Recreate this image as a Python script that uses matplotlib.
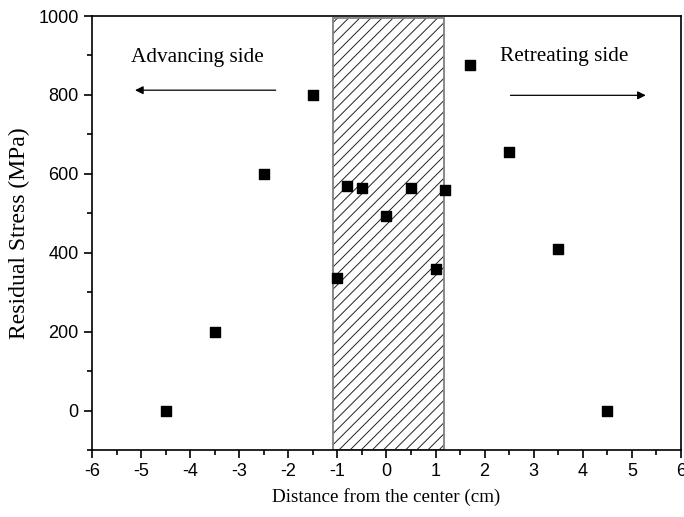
import matplotlib.pyplot as plt
from matplotlib.patches import Rectangle
from matplotlib.ticker import MultipleLocator

plt.rcParams['axes.unicode_minus'] = False
plt.rcParams['hatch.linewidth'] = 0.7

# Measured points
distance = [-4.5, -3.5, -2.5, -1.5, -1.0, -0.8, -0.5, 0.0, 0.5, 1.0, 1.2, 1.7, 2.5, 3.5, 4.5]
stress = [0, 200, 600, 800, 335, 570, 565, 492, 565, 360, 560, 875, 655, 410, 0]

# Stir zone extent (cm)
zone_left = -1.08
zone_right = 1.18

fig = plt.figure(figsize=(6.84, 5.17), dpi=100)
ax = fig.add_axes([0.1345, 0.1296, 0.861, 0.8394])

# hatch in black, border in grey
ax.add_patch(Rectangle((zone_left, -100), zone_right - zone_left, 1095,
                       facecolor='white', edgecolor='#222222', hatch='///',
                       linewidth=0, zorder=1))
ax.add_patch(Rectangle((zone_left, -100), zone_right - zone_left, 1095,
                       fill=False, edgecolor='#808080', linewidth=1.3, zorder=2))

ax.scatter(distance, stress, marker='s', s=50, color='black', zorder=3)

ax.set_xlim(-6, 6)
ax.set_ylim(-100, 1000)
ax.xaxis.set_major_locator(MultipleLocator(1))
ax.xaxis.set_minor_locator(MultipleLocator(0.5))
ax.yaxis.set_major_locator(MultipleLocator(200))
ax.yaxis.set_minor_locator(MultipleLocator(100))
ax.tick_params(which='both', direction='out', top=False, right=False, width=1.2,
               labelsize=13)
ax.tick_params(which='major', length=6)
ax.tick_params(which='minor', length=3.5)
for lab in ax.get_xticklabels() + ax.get_yticklabels():
    lab.set_family('Liberation Sans')
for sp in ax.spines.values():
    sp.set_linewidth(1.2)

ax.set_xlabel('Distance from the center (cm)', family='Liberation Serif', fontsize=13.7, labelpad=6)
ax.set_ylabel('Residual Stress (MPa)', family='Liberation Serif', fontsize=17, labelpad=6)

ax.text(-3.86, 896, 'Advancing side', family='Liberation Serif', fontsize=15.3,
        ha='center', va='center')
ax.text(3.63, 898, 'Retreating side', family='Liberation Serif', fontsize=15.3,
        ha='center', va='center')
ax.annotate('', xy=(-5.18, 812), xytext=(-2.2, 812),
            arrowprops=dict(arrowstyle='-|>', color='black', lw=0.9, mutation_scale=12))
ax.annotate('', xy=(5.34, 799), xytext=(2.47, 799),
            arrowprops=dict(arrowstyle='-|>', color='black', lw=0.9, mutation_scale=12))

plt.savefig('out.png', dpi=100)
plt.close()
